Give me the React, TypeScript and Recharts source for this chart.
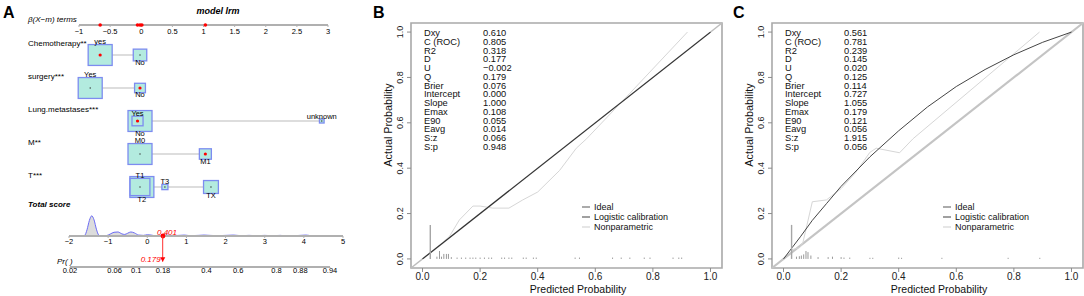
import React from 'react';
import { ComposedChart, XAxis, YAxis, Line, Scatter, Area, ReferenceLine, ReferenceArea } from 'recharts';

const FONT = "'Liberation Sans', Arial, Helvetica, sans-serif";

// ---------------- Panel A : nomogram ----------------
const pointsTicks = [-1, -0.5, 0, 0.5, 1, 1.5, 2, 2.5, 3];
const scoreTicks = [-2, -1, 0, 1, 2, 3, 4, 5];
const prTicks = [0.02, 0.06, 0.1, 0.18, 0.4, 0.6, 0.8, 0.88, 0.94];
const variableNames = ['Chemotherapy**', 'surgery***', 'Lung.metastases***', 'M**', 'T***'];

type Level = { label: string; value: number; freq: number; obs?: boolean };
const chemoLevels: Level[] = [
  { label: 'yes', value: -0.66, freq: 0.76, obs: true },
  { label: 'No', value: -0.02, freq: 0.24 },
];
const surgeryLevels: Level[] = [
  { label: 'Yes', value: -0.82, freq: 0.83 },
  { label: 'No', value: -0.02, freq: 0.17, obs: true },
];
const lungLevels: Level[] = [
  { label: 'Yes', value: -0.06, freq: 0.17, obs: true },
  { label: 'No', value: -0.02, freq: 0.8 },
  { label: 'unknown', value: 2.9, freq: 0.03 },
];
const mLevels: Level[] = [
  { label: 'M0', value: -0.02, freq: 0.8 },
  { label: 'M1', value: 1.03, freq: 0.2, obs: true },
];
const tLevels: Level[] = [
  { label: 'T1', value: -0.02, freq: 0.32 },
  { label: 'T2', value: 0.01, freq: 0.47, obs: true },
  { label: 'T3', value: 0.38, freq: 0.03 },
  { label: 'TX', value: 1.12, freq: 0.18 },
];
const levelSets = [chemoLevels, surgeryLevels, lungLevels, mLevels, tLevels];

const densityX = [-1.68, -1.6, -1.54, -1.48, -1.42, -1.36, -1.3, -1.24, -1.18, -1.05, -0.95, -0.85, -0.75, -0.65, -0.58, -0.5, -0.42, -0.33, -0.22, -0.1, 0.0, 0.1, 0.2, 0.35, 0.5, 0.65, 0.8, 0.95, 1.1, 1.3, 1.45, 1.6, 1.8, 2.0, 2.2, 2.4, 2.6, 2.8, 3.0, 3.2, 3.4, 3.6, 3.9, 4.05, 4.2];
const densityY = [0, 0.02, 0.2, 0.5, 0.65, 0.52, 0.22, 0.03, 0, 0.01, 0.06, 0.12, 0.13, 0.07, 0.05, 0.09, 0.13, 0.1, 0.03, 0.02, 0.04, 0.03, 0.01, 0.02, 0.03, 0.01, 0.02, 0.03, 0.01, 0.02, 0.03, 0.02, 0.01, 0.02, 0.03, 0.01, 0.02, 0.01, 0.02, 0.01, 0.02, 0, 0.02, 0.03, 0];
const observedScore = 0.401;
const observedProb = 0.179;

// ---------------- Panels B and C : calibration ----------------
const probTicks = [0, 0.2, 0.4, 0.6, 0.8, 1];
const statNames = ['Dxy', 'C (ROC)', 'R2', 'D', 'U', 'Q', 'Brier', 'Intercept', 'Slope', 'Emax', 'E90', 'Eavg', 'S:z', 'S:p'];
const statsB = [0.61, 0.805, 0.318, 0.177, -0.002, 0.179, 0.076, 0.0, 1.0, 0.108, 0.055, 0.014, 0.066, 0.948];
const statsC = [0.561, 0.781, 0.239, 0.145, 0.02, 0.125, 0.114, 0.727, 1.055, 0.179, 0.121, 0.056, 1.915, 0.056];
const legendNames = ['Ideal', 'Logistic calibration', 'Nonparametric'];

const idealLine = [[-0.04, -0.04], [1.04, 1.04]];
const bLogistic = [[0, 0], [1, 1]];
const bNonparametric = [[0.02, 0.02], [0.06, 0.06], [0.094, 0.1], [0.128, 0.172], [0.175, 0.233], [0.2, 0.233], [0.244, 0.224], [0.3, 0.224], [0.348, 0.26], [0.4, 0.295], [0.476, 0.39], [0.534, 0.488], [0.57, 0.53], [0.72, 0.73], [0.92, 1.0]];
const bSpikes = [[0.027, 0.15], [0.05, 0.01], [0.059, 0.035], [0.066, 0.01], [0.074, 0.022], [0.083, 0.022], [0.09, 0.022], [0.1, 0.008], [0.12, 0.006], [0.135, 0.006], [0.15, 0.006], [0.165, 0.006], [0.175, 0.006], [0.185, 0.006], [0.2, 0.006], [0.215, 0.006], [0.23, 0.006], [0.24, 0.006], [0.275, 0.006], [0.285, 0.006], [0.3, 0.006], [0.31, 0.006], [0.35, 0.006], [0.36, 0.006], [0.385, 0.006], [0.395, 0.006], [0.53, 0.006], [0.545, 0.006], [0.66, 0.006], [0.69, 0.006], [0.72, 0.006], [0.77, 0.006], [0.79, 0.006], [0.87, 0.006], [0.89, 0.006], [0.9, 0.006]];

const cLogistic = [[0, 0], [0.03, 0.05], [0.06, 0.1], [0.1, 0.17], [0.15, 0.245], [0.2, 0.32], [0.3, 0.45], [0.4, 0.565], [0.5, 0.67], [0.6, 0.76], [0.7, 0.835], [0.8, 0.9], [0.9, 0.955], [1, 1]];
const cNonparametric = [[0.027, 0.04], [0.056, 0.05], [0.067, 0.07], [0.1, 0.252], [0.149, 0.26], [0.2, 0.31], [0.25, 0.38], [0.3, 0.47], [0.322, 0.488], [0.403, 0.468], [0.45, 0.53], [0.889, 1.0]];
const cSpikes = [[0.028, 0.15], [0.045, 0.01], [0.055, 0.012], [0.062, 0.015], [0.07, 0.02], [0.078, 0.035], [0.085, 0.03], [0.095, 0.015], [0.12, 0.008], [0.155, 0.008], [0.17, 0.01], [0.2, 0.008], [0.21, 0.006], [0.23, 0.006], [0.3, 0.005], [0.31, 0.005], [0.4, 0.006], [0.41, 0.005], [0.55, 0.005], [0.78, 0.005], [0.89, 0.005]];

// ---------------- helpers ----------------
const toPts = (arr: number[][]) => arr.map(([x, y]) => ({ x, y }));
const fmtNum = (v: number) => (v < 0 ? '\u2212' + String(Math.abs(v)) : String(v));
const fmtStat = (v: number) => (v < 0 ? '\u2212' + Math.abs(v).toFixed(3) : v.toFixed(3));
const logit = (p: number) => Math.log(p / (1 - p));
const scoreOffset = observedScore - logit(observedProb);
const prToScore = (p: number) => logit(p) + scoreOffset;

const BOX_FILL = '#b3ebdf';
const BOX_STROKE = '#7d8cf0';
const MAX_SIDE = 24;

const boxData = levelSets
  .flatMap((levels, r) => {
    const maxF = Math.max(...levels.map((l) => l.freq));
    return levels.map((l, i) => ({
      x: l.value,
      y: r + 1,
      side: MAX_SIDE * Math.sqrt(l.freq / maxF),
      label: l.label,
      above: i % 2 === 0,
      obs: !!l.obs,
    }));
  })
  .sort((a, b) => b.side - a.side);

const connectorData = levelSets.map((levels, r) => {
  const vals = levels.map((l) => l.value);
  return [{ x: Math.min(...vals), y: r + 1 }, { x: Math.max(...vals), y: r + 1 }];
});
const observedPoints = levelSets.flatMap((levels) => levels.filter((l) => l.obs).map((l) => ({ x: l.value, y: 0 })));
const densityData = densityX.map((x, i) => ({ x, d: densityY[i] }));

const BoxShape = (p: any) => {
  const { cx, cy, payload } = p;
  const w = payload.side;
  const h = payload.side * 0.87;
  const ty = payload.above ? cy - h / 2 - 0.3 : cy + h / 2 + 4.6;
  return (
    <g>
      <rect x={cx - w / 2} y={cy - h / 2} width={w} height={h} fill={BOX_FILL} stroke={BOX_STROKE} strokeWidth={1.3} />
      <circle cx={cx} cy={cy} r={payload.obs ? 1.6 : 0.7} fill={payload.obs ? '#ff0000' : '#333'} />
      <text x={cx} y={ty} textAnchor="middle" fontSize={7.5} fontFamily={FONT} fill="#000">
        {payload.label}
      </text>
    </g>
  );
};

const RowNameTick = (p: any) => (
  <text x={28} y={p.y - 9.5} fontSize={8} fontFamily={FONT} fill="#000">
    {variableNames[p.payload.value - 1]}
  </text>
);

const RedDot = (p: any) => <circle cx={p.cx} cy={p.cy} r={1.8} fill="#ff0000" />;

const ObsScoreShape = (p: any) => (
  <g>
    <circle cx={p.cx} cy={p.cy} r={2.4} fill="#ff0000" />
    <text x={p.cx - 6} y={p.cy - 1.5} fontSize={8} fontStyle="italic" fontFamily={FONT} fill="#ff0000">
      {observedScore.toFixed(3)}
    </text>
  </g>
);

const ArrowDot = (p: any) => {
  if (p.index !== 1) return <g key={p.index} />;
  const { cx, cy } = p;
  return (
    <g key={p.index}>
      <polygon points={`${cx - 2.6},${cy - 4.5} ${cx + 2.6},${cy - 4.5} ${cx},${cy}`} fill="#ff0000" />
      <text x={cx - 2} y={cy + 0.5} textAnchor="end" fontSize={8} fontStyle="italic" fontFamily={FONT} fill="#ff0000">
        {observedProb.toFixed(3)}
      </text>
    </g>
  );
};

const RotTick = (p: any) => {
  const { x, y, payload } = p;
  return (
    <text x={x} y={y} transform={`rotate(-90, ${x}, ${y})`} textAnchor="middle" fontSize={9} fontFamily={FONT} fill="#222">
      {Number(payload.value).toFixed(1)}
    </text>
  );
};

const axisTickA = { fontSize: 7.5, fill: '#000', fontFamily: FONT };
const axisLineA = { stroke: '#b0b0b0', strokeWidth: 2 };

type CalProps = {
  logistic: number[][];
  nonpar: number[][];
  spikes: number[][];
  idealStroke: string;
  idealWidth: number;
  logisticStroke: string;
  logisticWidth: number;
};

function CalibrationChart({ logistic, nonpar, spikes, idealStroke, idealWidth, logisticStroke, logisticWidth }: CalProps) {
  return (
    <ComposedChart width={363} height={296} margin={{ top: 23, right: 1, bottom: 0, left: 0 }}>
      <XAxis
        type="number"
        dataKey="x"
        domain={[-0.04, 1.04]}
        ticks={probTicks}
        interval={0}
        height={28}
        tickSize={4}
        tickMargin={1}
        axisLine={false}
        tickLine={{ stroke: '#8c8c8c' }}
        tick={{ fontSize: 10, fill: '#222', fontFamily: FONT }}
        tickFormatter={(v: number) => v.toFixed(1)}
      />
      <YAxis
        type="number"
        dataKey="y"
        domain={[-0.04, 1.04]}
        ticks={probTicks}
        interval={0}
        width={51}
        tickSize={4}
        tickMargin={4}
        axisLine={false}
        tickLine={{ stroke: '#8c8c8c' }}
        tick={<RotTick />}
      />
      <ReferenceArea x1={-0.04} x2={1.04} y1={-0.04} y2={1.04} fill="none" fillOpacity={0} stroke="#a9a9a9" strokeWidth={1.6} ifOverflow="visible" />
      <Line data={toPts(idealLine)} dataKey="y" stroke={idealStroke} strokeWidth={idealWidth} dot={false} isAnimationActive={false} />
      <Line data={toPts(nonpar)} dataKey="y" stroke="#d6d6d6" strokeWidth={1} dot={false} isAnimationActive={false} />
      <Line data={toPts(logistic)} dataKey="y" stroke={logisticStroke} strokeWidth={logisticWidth} dot={false} isAnimationActive={false} />
      {spikes.map(([x, h], i) => (
        <ReferenceLine key={i} segment={[{ x, y: 0 }, { x, y: h }]} stroke={i === 0 ? '#a6a6a6' : '#9a9a9a'} strokeWidth={i === 0 ? 1.4 : 1} ifOverflow="visible" />
      ))}
    </ComposedChart>
  );
}

const legendStyles = [
  { color: '#ababab', width: 2 },
  { color: '#808080', width: 1.5 },
  { color: '#dedede', width: 1.5 },
];

function CalibOverlay({ left, stats }: { left: number; stats: number[] }) {
  const nameX = left + 13;
  const valX = left + 72;
  const legX = left + 171;
  return (
    <g fontFamily={FONT}>
      {statNames.map((n, i) => (
        <g key={n}>
          <text x={nameX} y={33 + 8.73 * i + 3.3} fontSize={9.3} fill="#111">{n}</text>
          <text x={valX} y={33 + 8.73 * i + 3.3} fontSize={9.3} fill="#111">{fmtStat(stats[i])}</text>
        </g>
      ))}
      {legendNames.map((n, i) => (
        <g key={n}>
          <line x1={legX} x2={legX + 8} y1={207 + 10 * i} y2={207 + 10 * i} stroke={legendStyles[i].color} strokeWidth={legendStyles[i].width} />
          <text x={legX + 12} y={207 + 10 * i + 3.3} fontSize={9} fill="#111">{n}</text>
        </g>
      ))}
      <text x={left + 167} y={292.5} textAnchor="middle" fontSize={10.5} fill="#111">Predicted Probability</text>
      <text x={left - 19} y={125} transform={`rotate(-90, ${left - 19}, 125)`} textAnchor="middle" fontSize={10.8} fill="#111">Actual Probability</text>
    </g>
  );
}

export default function App() {
  return (
    <div style={{ position: 'absolute', left: 0, top: 0, width: 1084, height: 296, background: '#fff', overflow: 'hidden', fontFamily: FONT }}>
      {/* Panel A: variable rows */}
      <div style={{ position: 'absolute', left: 0, top: 0 }}>
        <ComposedChart width={360} height={230} margin={{ top: 22, right: 32, bottom: 10, left: 0 }}>
          <XAxis type="number" dataKey="x" domain={[-1, 3]} hide />
          <YAxis type="number" dataKey="y" domain={[0, 6]} reversed ticks={[1, 2, 3, 4, 5]} interval={0} width={79} axisLine={false} tickLine={false} tick={<RowNameTick />} />
          {connectorData.map((d, i) => (
            <Line key={i} data={d} dataKey="y" stroke="#dddddd" strokeWidth={2} dot={false} isAnimationActive={false} />
          ))}
          <Scatter data={boxData} shape={BoxShape} isAnimationActive={false} />
        </ComposedChart>
      </div>
      {/* Panel A: points axis */}
      <div style={{ position: 'absolute', left: 0, top: 0 }}>
        <ComposedChart width={360} height={45} margin={{ top: 5, right: 32, bottom: 0, left: 79 }}>
          <XAxis type="number" dataKey="x" domain={[-1, 3]} ticks={pointsTicks} interval={0} height={20} tickSize={2} tickMargin={2} axisLine={axisLineA} tickLine={{ stroke: '#b0b0b0' }} tick={axisTickA} tickFormatter={fmtNum} />
          <YAxis type="number" dataKey="y" domain={[0, 1]} hide />
          <Scatter data={observedPoints} shape={RedDot} isAnimationActive={false} />
        </ComposedChart>
      </div>
      {/* Panel A: total score */}
      <div style={{ position: 'absolute', left: 0, top: 195 }}>
        <ComposedChart width={360} height={65} margin={{ top: 10, right: 17, bottom: 0, left: 69 }}>
          <XAxis type="number" dataKey="x" domain={[-2, 5]} ticks={scoreTicks} interval={0} height={24} tickSize={2} tickMargin={1} axisLine={axisLineA} tickLine={{ stroke: '#b0b0b0' }} tick={axisTickA} tickFormatter={fmtNum} />
          <YAxis type="number" dataKey="y" domain={[0, 1]} hide />
          <Area data={densityData} dataKey="d" type="monotone" stroke="#6b6bf5" strokeWidth={1} fill="#dcdcdc" fillOpacity={1} isAnimationActive={false} />
          <Scatter data={[{ x: observedScore, y: 0 }]} shape={ObsScoreShape} isAnimationActive={false} />
        </ComposedChart>
      </div>
      {/* Panel A: probability axis */}
      <div style={{ position: 'absolute', left: 0, top: 236 }}>
        <ComposedChart width={360} height={60} margin={{ top: 0, right: 30, bottom: 0, left: 70 }}>
          <XAxis
            type="number"
            dataKey="x"
            domain={[prToScore(prTicks[0]), prToScore(prTicks[prTicks.length - 1])]}
            ticks={prTicks.map(prToScore)}
            interval={0}
            height={29}
            tickSize={1}
            tickMargin={0}
            axisLine={axisLineA}
            tickLine={{ stroke: '#b0b0b0' }}
            tick={axisTickA}
            tickFormatter={(v: number) => {
              const p = prTicks.find((t) => Math.abs(prToScore(t) - v) < 1e-6);
              return p === undefined ? '' : String(p);
            }}
          />
          <YAxis type="number" dataKey="y" domain={[0, 1]} hide />
          <Line
            data={[{ x: prToScore(observedProb), y: 1 }, { x: prToScore(observedProb), y: 0.17 }]}
            dataKey="y"
            stroke="#ff3030"
            strokeWidth={1}
            dot={ArrowDot}
            isAnimationActive={false}
          />
        </ComposedChart>
      </div>

      {/* Panel B */}
      <div style={{ position: 'absolute', left: 360, top: 0 }}>
        <CalibrationChart logistic={bLogistic} nonpar={bNonparametric} spikes={bSpikes} idealStroke="#bdbdbd" idealWidth={1.5} logisticStroke="#2e2e2e" logisticWidth={1.1} />
      </div>
      {/* Panel C */}
      <div style={{ position: 'absolute', left: 721, top: 0 }}>
        <CalibrationChart logistic={cLogistic} nonpar={cNonparametric} spikes={cSpikes} idealStroke="#c4c4c4" idealWidth={2.2} logisticStroke="#454545" logisticWidth={1} />
      </div>

      {/* text overlay */}
      <svg width={1084} height={296} style={{ position: 'absolute', left: 0, top: 0, pointerEvents: 'none' }}>
        <g fontFamily={FONT}>
          <text x={3} y={18} fontSize={16} fontWeight="bold" fill="#000">A</text>
          <text x={373} y={18} fontSize={16} fontWeight="bold" fill="#000">B</text>
          <text x={733} y={18} fontSize={16} fontWeight="bold" fill="#000">C</text>
          <text x={218} y={14} textAnchor="middle" fontSize={9} fontWeight="bold" fontStyle="italic" fill="#000">model lrm</text>
          <text x={28} y={22} fontSize={8} fontStyle="italic" fill="#000">β(X−m) terms</text>
          <text x={28} y={207} fontSize={8} fontWeight="bold" fontStyle="italic" fill="#000">Total score</text>
          <text x={57} y={264} fontSize={8} fontStyle="italic" fill="#000">Pr(  )</text>
        </g>
        <CalibOverlay left={411} stats={statsB} />
        <CalibOverlay left={772} stats={statsC} />
      </svg>
    </div>
  );
}
